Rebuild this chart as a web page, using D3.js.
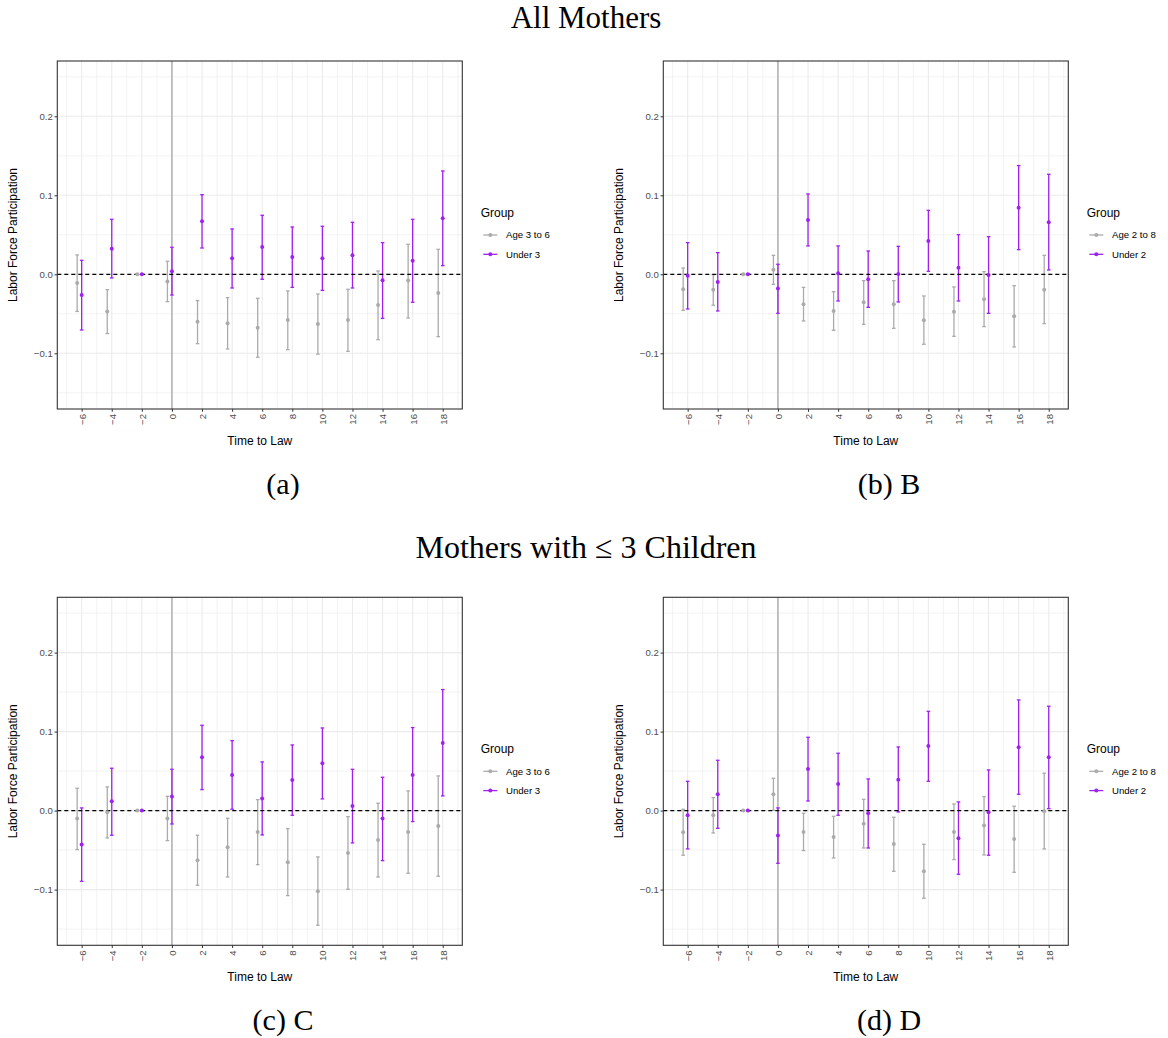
<!DOCTYPE html>
<html><head><meta charset="utf-8">
<script src="https://cdn.jsdelivr.net/npm/d3@7"></script>
<style>body{margin:0;background:#fff}svg{display:block}</style>
</head><body>
<svg id="c" width="1168" height="1038"></svg>
<script>
// ---- data ----
const times = [-6,-4,-2,0,2,4,6,8,10,12,14,16,18];
const xTicks = [-6,-4,-2,0,2,4,6,8,10,12,14,16,18];
const yTicks = [-0.1,0,0.1,0.2];
const yMinor = [-0.15,-0.05,0.05,0.15,0.25];
const rowTitles = ["All Mothers","Mothers with \u2264 3 Children"];
const captions = ["(a)","(b) B","(c) C","(d) D"];
const groupsA = ["Age 3 to 6","Under 3"];
const groupsB = ["Age 2 to 8","Under 2"];

const aGrayEst = [-0.011,-0.047,0,-0.009,-0.060,-0.062,-0.0675,-0.058,-0.063,-0.058,-0.039,-0.008,-0.0236];
const aGrayLo  = [-0.047,-0.075,0,-0.0346,-0.0878,-0.0945,-0.105,-0.0954,-0.101,-0.0975,-0.0827,-0.0553,-0.0789];
const aGrayHi  = [0.0245,-0.0194,0,0.0165,-0.0333,-0.0295,-0.0304,-0.0211,-0.0249,-0.019,0.0042,0.038,0.0316];
const aPurpEst = [-0.0262,0.0325,0,0.0038,0.0671,0.0203,0.0346,0.0219,0.0203,0.024,-0.0076,0.0173,0.0709];
const aPurpLo  = [-0.0705,-0.0046,0,-0.0262,0.0333,-0.0173,-0.0063,-0.0165,-0.0203,-0.0173,-0.0557,-0.0354,0.011];
const aPurpHi  = [0.0177,0.0696,0,0.0342,0.1008,0.0574,0.0747,0.0599,0.0608,0.0658,0.0401,0.0696,0.1308];

const bGrayEst = [-0.019,-0.0194,0,0.0059,-0.038,-0.0464,-0.0354,-0.038,-0.0582,-0.0473,-0.0316,-0.0532,-0.0194];
const bGrayLo  = [-0.0456,-0.0392,0,-0.0127,-0.059,-0.0709,-0.0633,-0.0684,-0.0886,-0.0785,-0.0662,-0.092,-0.0624];
const bGrayHi  = [0.008,-0.0004,0,0.024,-0.0165,-0.022,-0.008,-0.008,-0.0274,-0.016,0.0034,-0.0143,0.024];
const bPurpEst = [-0.0017,-0.0097,0,-0.0181,0.0688,0.0013,-0.0063,0.0004,0.0422,0.0084,-0.0008,0.0844,0.0658];
const bPurpLo  = [-0.0439,-0.0464,0,-0.0494,0.0359,-0.0338,-0.0418,-0.035,0.0038,-0.0338,-0.0494,0.0312,0.0055];
const bPurpHi  = [0.0401,0.0274,0,0.0127,0.1017,0.0359,0.0295,0.0354,0.081,0.0502,0.0477,0.1376,0.1266];

const cGrayEst = [-0.0101,-0.0021,0,-0.0101,-0.0629,-0.0464,-0.027,-0.0654,-0.1021,-0.0536,-0.0371,-0.027,-0.0194];
const cGrayLo  = [-0.0494,-0.0346,0,-0.038,-0.0945,-0.084,-0.0684,-0.1076,-0.1451,-0.0996,-0.084,-0.0793,-0.0831];
const cGrayHi  = [0.0283,0.03,0,0.0181,-0.0312,-0.0097,0.0139,-0.0228,-0.0586,-0.0076,0.0093,0.0249,0.0439];
const cPurpEst = [-0.043,0.0118,0,0.0177,0.0675,0.0451,0.0152,0.0388,0.0599,0.0059,-0.0101,0.0451,0.0857];
const cPurpLo  = [-0.0895,-0.0312,0,-0.0169,0.0266,0.0017,-0.0308,-0.0059,0.0148,-0.0409,-0.0633,-0.0139,0.0186];
const cPurpHi  = [0.0034,0.0536,0,0.0523,0.108,0.0886,0.0616,0.0831,0.1046,0.0523,0.0422,0.1051,0.1532];

const dGrayEst = [-0.0274,-0.0059,0,0.0207,-0.027,-0.0333,-0.0165,-0.0422,-0.0768,-0.027,-0.019,-0.0359,-0.0008];
const dGrayLo  = [-0.0565,-0.0283,0,0.0004,-0.0506,-0.0599,-0.0473,-0.0768,-0.111,-0.062,-0.0561,-0.0781,-0.0485];
const dGrayHi  = [0.0017,0.0165,0,0.0409,-0.0034,-0.0072,0.0143,-0.0084,-0.0426,0.0084,0.0177,0.0055,0.0473];
const dPurpEst = [-0.0059,0.0207,0,-0.0316,0.0527,0.0338,-0.0034,0.0392,0.0819,-0.035,-0.0021,0.0802,0.0675];
const dPurpLo  = [-0.0485,-0.0224,0,-0.0667,0.0122,-0.0059,-0.0473,-0.0017,0.0371,-0.0806,-0.0565,0.0207,0.0025];
const dPurpHi  = [0.0371,0.0637,0,0.0034,0.0928,0.0726,0.0401,0.0806,0.1257,0.011,0.0515,0.1401,0.1321];

// ---- build ----
const GRAY = "#ababab", PURPLE = "#A020F0";
const svg = d3.select("#c");
const sans = "'Liberation Sans', Arial, sans-serif";
const serif = "'Liberation Serif', 'DejaVu Serif', serif";

function rows(est, lo, hi, dx){ return times.map((t,i)=>({t, x:t+dx, est:est[i], lo:lo[i], hi:hi[i]})); }

const panels = [
  {ox:0,   oy:0,     groups:groupsA, gray:rows(aGrayEst,aGrayLo,aGrayHi,-0.3), purp:rows(aPurpEst,aPurpLo,aPurpHi,0), cap:captions[0]},
  {ox:606, oy:0,     groups:groupsB, gray:rows(bGrayEst,bGrayLo,bGrayHi,-0.3), purp:rows(bPurpEst,bPurpLo,bPurpHi,0), cap:captions[1]},
  {ox:0,   oy:536.3, groups:groupsA, gray:rows(cGrayEst,cGrayLo,cGrayHi,-0.3), purp:rows(cPurpEst,cPurpLo,cPurpHi,0), cap:captions[2]},
  {ox:606, oy:536.3, groups:groupsB, gray:rows(dGrayEst,dGrayLo,dGrayHi,-0.3), purp:rows(dPurpEst,dPurpLo,dPurpHi,0), cap:captions[3]}
];

// row titles
svg.append("text").attr("x",586).attr("y",28).attr("text-anchor","middle")
  .attr("font-family",serif).attr("font-size",31).text(rowTitles[0]);
svg.append("text").attr("x",586).attr("y",558).attr("text-anchor","middle")
  .attr("font-family",serif).attr("font-size",32).text(rowTitles[1]);

const L = 57.3, R = 462.3, T = 61, B = 409;
panels.forEach(p=>{
  const g = svg.append("g").attr("transform",`translate(${p.ox},${p.oy})`);
  const x = d3.scaleLinear().domain([-7.62,19.30]).range([L,R]);
  const y = d3.scaleLinear().domain([-0.1705,0.27]).range([B,T]);

  g.append("rect").attr("x",L).attr("y",T).attr("width",R-L).attr("height",B-T).attr("fill","#fff");
  // minor grid
  const xMinor = d3.range(-7,20,2);
  g.selectAll(".gxm").data(xMinor).join("line").attr("x1",d=>x(d)).attr("x2",d=>x(d)).attr("y1",T).attr("y2",B)
    .attr("stroke","#ebebeb").attr("stroke-width",0.6);
  g.selectAll(".gym").data(yMinor).join("line").attr("y1",d=>y(d)).attr("y2",d=>y(d)).attr("x1",L).attr("x2",R)
    .attr("stroke","#ebebeb").attr("stroke-width",0.6);
  // major grid
  g.selectAll(".gx").data(xTicks).join("line").attr("x1",d=>x(d)).attr("x2",d=>x(d)).attr("y1",T).attr("y2",B)
    .attr("stroke","#ebebeb").attr("stroke-width",1.1);
  g.selectAll(".gy").data(yTicks).join("line").attr("y1",d=>y(d)).attr("y2",d=>y(d)).attr("x1",L).attr("x2",R)
    .attr("stroke","#ebebeb").attr("stroke-width",1.1);

  // vertical line at 0
  g.append("line").attr("x1",x(0)).attr("x2",x(0)).attr("y1",T).attr("y2",B).attr("stroke","#999").attr("stroke-width",1.1);

  // error bars
  const cap = 1.8;
  [[p.gray,GRAY],[p.purp,PURPLE]].forEach(([data,col])=>{
    const eb = g.append("g").attr("stroke",col).attr("stroke-width",1.3).attr("fill","none");
    eb.selectAll(".v").data(data).join("line").attr("x1",d=>x(d.x)).attr("x2",d=>x(d.x)).attr("y1",d=>y(d.lo)).attr("y2",d=>y(d.hi));
    eb.selectAll(".h1").data(data).join("line").attr("x1",d=>x(d.x)-cap).attr("x2",d=>x(d.x)+cap).attr("y1",d=>y(d.lo)).attr("y2",d=>y(d.lo));
    eb.selectAll(".h2").data(data).join("line").attr("x1",d=>x(d.x)-cap).attr("x2",d=>x(d.x)+cap).attr("y1",d=>y(d.hi)).attr("y2",d=>y(d.hi));
  });

  // dashed zero line
  g.append("line").attr("x1",L).attr("x2",R).attr("y1",y(0)).attr("y2",y(0)).attr("stroke","#000")
    .attr("stroke-width",1.2).attr("stroke-dasharray","4,3");

  // points
  [[p.gray,GRAY],[p.purp,PURPLE]].forEach(([data,col])=>{
    g.append("g").selectAll("circle").data(data).join("circle").attr("cx",d=>x(d.x)).attr("cy",d=>y(d.est)).attr("r",2).attr("fill",col);
  });

  // border
  g.append("rect").attr("x",L).attr("y",T).attr("width",R-L).attr("height",B-T).attr("fill","none").attr("stroke","#333").attr("stroke-width",1.1);

  // axes
  const xa = g.append("g").attr("transform",`translate(0,${B})`)
    .call(d3.axisBottom(x).tickValues(xTicks).tickSize(2.75).tickFormat(d=>d<0?"\u2212"+Math.abs(d):String(d)));
  xa.select(".domain").remove();
  xa.selectAll("line").attr("stroke","#333");
  xa.selectAll("text").attr("transform","rotate(-90)").attr("text-anchor","end")
    .attr("x",-5).attr("y",0).attr("dy","0.35em")
    .attr("fill","#4d4d4d").attr("font-family",sans).attr("font-size",9.6);
  const ya = g.append("g").attr("transform",`translate(${L},0)`)
    .call(d3.axisLeft(y).tickValues(yTicks).tickSize(2.75).tickFormat(d=>d<0?"\u2212"+Math.abs(d).toFixed(1):d.toFixed(1)));
  ya.select(".domain").remove();
  ya.selectAll("line").attr("stroke","#333");
  ya.selectAll("text").attr("x",-4.5).attr("fill","#4d4d4d").attr("font-family",sans).attr("font-size",9.6);

  // axis titles
  g.append("text").attr("x",(L+R)/2).attr("y",445).attr("text-anchor","middle").attr("font-family",sans).attr("font-size",12).text("Time to Law");
  g.append("text").attr("transform",`translate(17,${(T+B)/2}) rotate(-90)`).attr("text-anchor","middle").attr("font-family",sans).attr("font-size",12).text("Labor Force Participation");

  // legend
  const lx = R + 18.4;
  g.append("text").attr("x",lx).attr("y",217).attr("font-family",sans).attr("font-size",12).text("Group");
  [[GRAY,235],[PURPLE,254.3]].forEach(([col,yy],i)=>{
    g.append("line").attr("x1",lx+2.6).attr("x2",lx+16.6).attr("y1",yy).attr("y2",yy).attr("stroke",col).attr("stroke-width",1.3);
    g.append("circle").attr("cx",lx+9.6).attr("cy",yy).attr("r",2).attr("fill",col);
    g.append("text").attr("x",lx+25.3).attr("y",yy).attr("dy","0.35em").attr("font-family",sans).attr("font-size",9.6).text(p.groups[i]);
  });

  // caption
  g.append("text").attr("x",283).attr("y",494).attr("text-anchor","middle").attr("font-family",serif).attr("font-size",30).text(p.cap);
});
</script>
</body></html>
